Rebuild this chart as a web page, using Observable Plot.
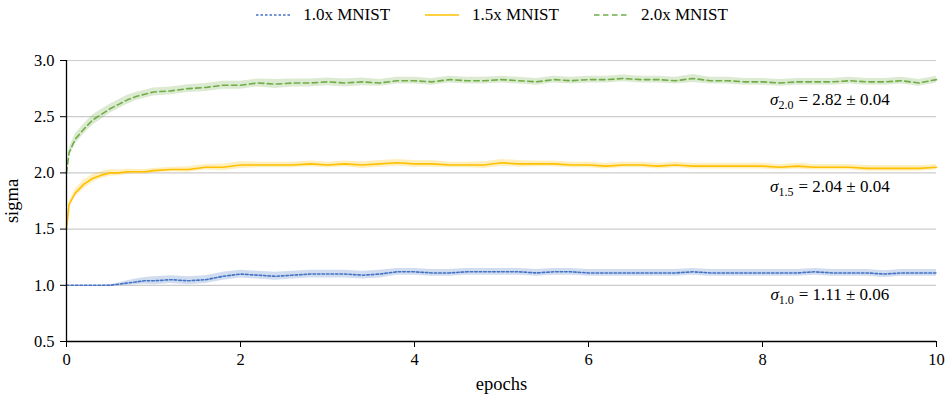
<!DOCTYPE html>
<html>
<head>
<meta charset="utf-8">
<script src="https://cdn.jsdelivr.net/npm/d3@7"></script>
<script src="https://cdn.jsdelivr.net/npm/@observablehq/plot@0.6"></script>
<style>
  body { margin: 0; background: #fff; font-family: "Liberation Serif", serif; color: #000; }
  #legend { height: 30px; display: flex; justify-content: center; align-items: center; gap: 35px; font-size: 17px; padding-left: 37px; box-sizing: border-box; width: 947px; }
  #legend .item { display: flex; align-items: center; }
  #legend svg { margin-right: 13px; }
  #chart svg, #chart svg text { font-family: "Liberation Serif", serif !important; }
</style>
</head>
<body>
<div id="legend"></div>
<div id="chart"></div>
<script>
// Training epochs at which sigma was recorded
const epochs = [0, 0.03, 0.1, 0.2, 0.3, 0.4, 0.5, 0.6, 0.7, 0.8, 0.9, 1.0,
  1.2, 1.4, 1.6, 1.8, 2.0, 2.2, 2.4, 2.6, 2.8, 3.0, 3.2, 3.4, 3.6, 3.8, 4.0,
  4.2, 4.4, 4.6, 4.8, 5.0, 5.2, 5.4, 5.6, 5.8, 6.0, 6.2, 6.4, 6.6, 6.8, 7.0,
  7.2, 7.4, 7.6, 7.8, 8.0, 8.2, 8.4, 8.6, 8.8, 9.0, 9.2, 9.4, 9.6, 9.8, 10.0];

// Mean sigma per run type
const sigma10 = [1.00, 1.00, 1.00, 1.00, 1.00, 1.00, 1.00, 1.01, 1.02, 1.03, 1.04, 1.04,
  1.05, 1.04, 1.05, 1.08, 1.10, 1.09, 1.08, 1.09, 1.10, 1.10, 1.10, 1.09, 1.10, 1.12, 1.12,
  1.11, 1.11, 1.12, 1.12, 1.12, 1.12, 1.11, 1.12, 1.12, 1.11, 1.11, 1.11, 1.11, 1.11, 1.11,
  1.12, 1.11, 1.11, 1.11, 1.11, 1.11, 1.11, 1.12, 1.11, 1.11, 1.11, 1.10, 1.11, 1.11, 1.11];
const sigma15 = [1.50, 1.72, 1.82, 1.90, 1.95, 1.98, 2.00, 2.00, 2.01, 2.01, 2.01, 2.02,
  2.03, 2.03, 2.05, 2.05, 2.07, 2.07, 2.07, 2.07, 2.08, 2.07, 2.08, 2.07, 2.08, 2.09, 2.08,
  2.08, 2.07, 2.07, 2.07, 2.09, 2.08, 2.08, 2.08, 2.07, 2.07, 2.06, 2.07, 2.07, 2.06, 2.07,
  2.06, 2.06, 2.06, 2.06, 2.06, 2.05, 2.06, 2.05, 2.05, 2.05, 2.04, 2.04, 2.04, 2.04, 2.05];
const sigma20 = [2.00, 2.18, 2.30, 2.39, 2.47, 2.52, 2.57, 2.61, 2.65, 2.68, 2.70, 2.72,
  2.73, 2.75, 2.76, 2.78, 2.78, 2.80, 2.79, 2.80, 2.80, 2.81, 2.80, 2.81, 2.80, 2.82, 2.82,
  2.81, 2.83, 2.82, 2.82, 2.83, 2.82, 2.81, 2.83, 2.82, 2.83, 2.83, 2.84, 2.83, 2.83, 2.82,
  2.84, 2.82, 2.82, 2.81, 2.81, 2.80, 2.81, 2.81, 2.81, 2.82, 2.81, 2.81, 2.82, 2.80, 2.83];

// Half-width of the spread band around each mean
const spread10 = [0, 0, 0, 0, 0, 0, 0.005, 0.01, 0.02, 0.025, 0.03, 0.035,
  0.035, 0.035, 0.035, 0.035, 0.035, 0.035, 0.035, 0.035, 0.035, 0.035, 0.035, 0.035, 0.035, 0.03, 0.03,
  0.03, 0.03, 0.03, 0.03, 0.03, 0.03, 0.03, 0.03, 0.03, 0.03, 0.03, 0.03, 0.03, 0.03, 0.03,
  0.03, 0.03, 0.03, 0.03, 0.03, 0.03, 0.03, 0.03, 0.03, 0.03, 0.03, 0.03, 0.03, 0.03, 0.03];
const spread15 = [0, 0.025, 0.035, 0.04, 0.035, 0.03, 0.03, 0.025, 0.025, 0.02, 0.02, 0.02,
  0.02, 0.025, 0.025, 0.03, 0.03, 0.025, 0.025, 0.025, 0.025, 0.025, 0.025, 0.03, 0.03, 0.03, 0.03,
  0.03, 0.025, 0.025, 0.03, 0.03, 0.03, 0.025, 0.025, 0.025, 0.025, 0.025, 0.025, 0.025, 0.025, 0.025,
  0.025, 0.025, 0.025, 0.025, 0.025, 0.025, 0.025, 0.025, 0.025, 0.025, 0.025, 0.025, 0.025, 0.025, 0.025];
const spread20 = [0, 0.035, 0.045, 0.045, 0.045, 0.045, 0.04, 0.04, 0.04, 0.035, 0.035, 0.035,
  0.035, 0.035, 0.035, 0.035, 0.035, 0.035, 0.04, 0.035, 0.035, 0.035, 0.035, 0.035, 0.03, 0.03, 0.03,
  0.03, 0.03, 0.03, 0.03, 0.03, 0.03, 0.03, 0.03, 0.03, 0.03, 0.03, 0.03, 0.03, 0.03, 0.03,
  0.035, 0.03, 0.03, 0.03, 0.03, 0.03, 0.03, 0.03, 0.03, 0.03, 0.03, 0.03, 0.03, 0.03, 0.03];

const seriesNames = ["1.0x MNIST", "1.5x MNIST", "2.0x MNIST"];
const seriesColors = ["#4472C4", "#FFC000", "#70AD47"];
const subscripts = ["1.0", "1.5", "2.0"];
const summaries = ["= 1.11 \u00b1 0.06", "= 2.04 \u00b1 0.04", "= 2.82 \u00b1 0.04"];
const yTicks = [0.5, 1.0, 1.5, 2.0, 2.5, 3.0];
const xTicks = [0, 2, 4, 6, 8, 10];

// Line style per series: dotted, solid, dashed
const dashes = ["2.5,2", null, "5.5,3.5"];
const widths = [1.6, 1.6, 1.6];

const means = [sigma10, sigma15, sigma20];
const spreads = [spread10, spread15, spread20];
const rows = seriesNames.map((name, s) => epochs.map((e, i) => ({
  series: name, epoch: e, mean: means[s][i],
  lo: means[s][i] - spreads[s][i], hi: means[s][i] + spreads[s][i]
})));

const marks = [
  Plot.ruleY([1.0, 1.5, 2.0, 2.5, 3.0], {stroke: "#cccccc", strokeWidth: 1.2})
];
rows.forEach((data, s) => {
  marks.push(Plot.areaY(data, {x: "epoch", y1: "lo", y2: "hi", fill: seriesColors[s], fillOpacity: 0.25}));
});
rows.forEach((data, s) => {
  marks.push(Plot.lineY(data, {x: "epoch", y: "mean", stroke: seriesColors[s], strokeWidth: widths[s],
    strokeDasharray: dashes[s]}));
});
marks.push(
  Plot.ruleX([0], {stroke: "#000", strokeWidth: 1.3}),
  Plot.ruleY([0.5], {stroke: "#000", strokeWidth: 1.3}),
  Plot.axisY({ticks: yTicks, tickFormat: d3.format(".1f"), tickSize: 6, tickPadding: 6, label: null, fontSize: 16.5}),
  Plot.axisY({ticks: [], label: "sigma", labelAnchor: "center", labelArrow: "none", labelOffset: 62, fontSize: 18.5}),
  Plot.axisX({ticks: xTicks, tickFormat: d => String(d), tickSize: 6, tickPadding: 6, label: null, fontSize: 16.5}),
  Plot.axisX({ticks: [], label: "epochs", labelAnchor: "center", labelArrow: "none", labelOffset: 48, fontSize: 18.5})
);

const chart = Plot.plot({
  width: 947,
  height: 365,
  marginLeft: 66,
  marginRight: 11,
  marginTop: 30,
  marginBottom: 54,
  x: {domain: [0, 10]},
  y: {domain: [0.5, 3.0]},
  style: {background: "#fff", overflow: "visible"},
  marks
});
document.getElementById("chart").append(chart);

// Summary annotations under each curve, with subscripted sigma
const xs = chart.scale("x"), ys = chart.scale("y");
const notePos = [{e: 8.78, v: 0.865}, {e: 8.78, v: 1.828}, {e: 8.78, v: 2.60}];
const svg = d3.select(chart);
notePos.forEach((p, s) => {
  const t = svg.append("text")
    .attr("x", xs.apply(p.e)).attr("y", ys.apply(p.v))
    .attr("text-anchor", "middle")
    .attr("font-size", 17).attr("fill", "#000");
  t.append("tspan").attr("font-style", "italic").text("\u03c3");
  t.append("tspan").attr("font-size", 12).attr("dy", 4).text(subscripts[s]);
  t.append("tspan").attr("dy", -4).attr("dx", 5).text(summaries[s]);
});

// Legend above the chart
const legend = d3.select("#legend");
seriesNames.forEach((name, s) => {
  const item = legend.append("div").attr("class", "item");
  const ls = item.append("svg").attr("width", 34).attr("height", 10);
  ls.append("line").attr("x1", 0).attr("x2", 34).attr("y1", 5).attr("y2", 5)
    .attr("stroke", seriesColors[s]).attr("stroke-width", widths[s])
    .attr("stroke-dasharray", dashes[s]);
  item.append("span").text(name);
});
</script>
</body>
</html>
